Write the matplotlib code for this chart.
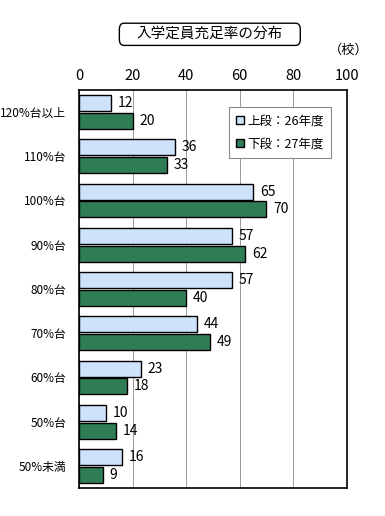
import numpy as np
import matplotlib.pyplot as plt
from matplotlib.patches import FancyBboxPatch

plt.rcParams['font.family'] = ['Noto Sans CJK JP', 'DejaVu Sans']

categories = ['120%台以上', '110%台', '100%台', '90%台', '80%台',
              '70%台', '60%台', '50%台', '50%未満']
upper_26 = [12, 36, 65, 57, 57, 44, 23, 10, 16]
lower_27 = [20, 33, 70, 62, 40, 49, 18, 14, 9]
labels = ['上段：26年度', '下段：27年度']

fig = plt.figure(figsize=(3.85, 5.16), dpi=100)
ax = fig.add_axes([0.205, 0.054, 0.696, 0.772])

y = np.arange(len(categories))
h = 0.36
b1 = ax.barh(y - h / 2 - 0.02, upper_26, height=h, color='#cfe2fb',
             edgecolor='black', linewidth=1.0, label=labels[0], zorder=3)
b2 = ax.barh(y + h / 2 + 0.02, lower_27, height=h, color='#2f7d55',
             edgecolor='black', linewidth=1.0, label=labels[1], zorder=3)

for bars, vals in [(b1, upper_26), (b2, lower_27)]:
    for r, v in zip(bars, vals):
        ax.text(v + 2.5, r.get_y() + r.get_height() / 2, str(v),
                va='center', ha='left', fontsize=10, zorder=4)

ax.set_xlim(0, 100)
ax.set_ylim(len(categories) - 0.5, -0.5)
ax.set_xticks([0, 20, 40, 60, 80, 100])
ax.xaxis.tick_top()
ax.tick_params(axis='x', length=0, labelsize=10.5, pad=5)
ax.set_yticks(y)
ax.set_yticklabels(categories, fontsize=8.5)
ax.tick_params(axis='y', length=0, pad=9)
ax.grid(axis='x', color='#999999', linewidth=0.7, zorder=0)
for s in ax.spines.values():
    s.set_linewidth(1.2)

leg = ax.legend(loc='upper right', bbox_to_anchor=(0.965, 0.972), fontsize=9,
                handlelength=0.6, handleheight=0.6, handletextpad=0.3,
                fancybox=False, edgecolor='#888888', framealpha=1,
                borderpad=0.6, labelspacing=0.8)
leg.get_frame().set_linewidth(0.8)

box = FancyBboxPatch((0.31, 0.912), 0.47, 0.043,
                     boxstyle='round,pad=0,rounding_size=0.012',
                     transform=fig.transFigure, facecolor='white',
                     edgecolor='black', linewidth=1.0)
fig.patches.append(box)
fig.text(0.545, 0.934, '入学定員充足率の分布', ha='center', va='center', fontsize=10.5)
fig.text(0.905, 0.902, '（校）', ha='center', va='center', fontsize=9.5)

fig.savefig('out.png', dpi=100)
